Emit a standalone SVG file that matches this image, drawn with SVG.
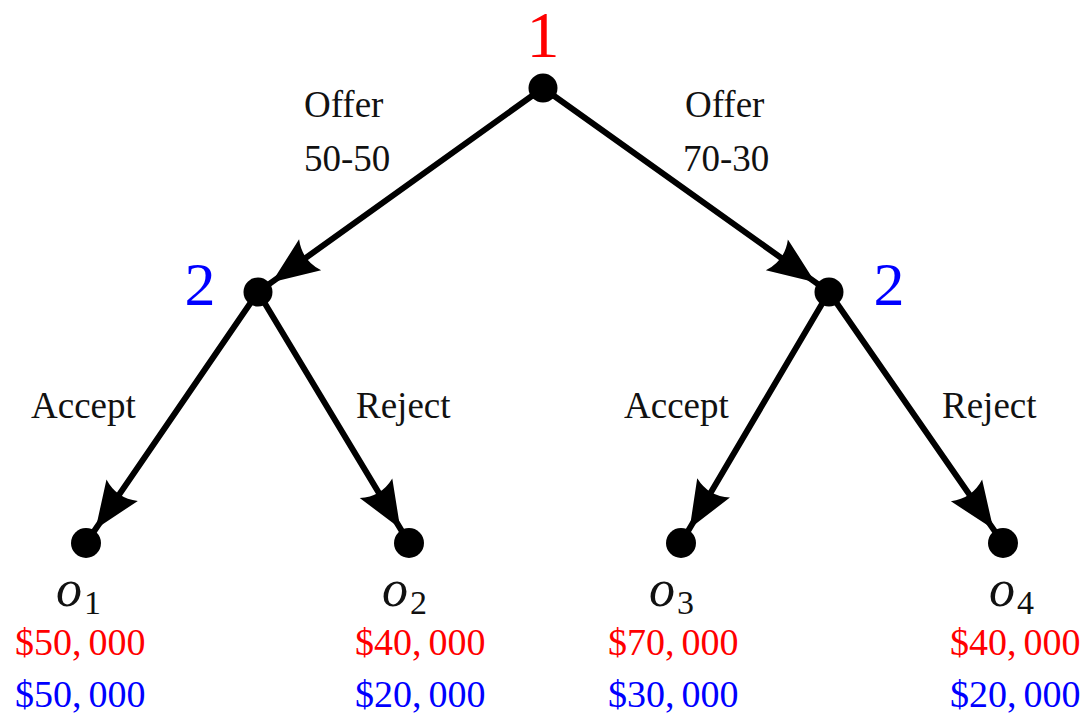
<svg xmlns="http://www.w3.org/2000/svg" width="1086" height="718" viewBox="0 0 1086 718">
<style>
.lbl{font-family:"Liberation Serif","Times New Roman",serif;font-size:37px;fill:#111}
.pl{font-family:"Liberation Serif","Times New Roman",serif}
.o{font-family:"Liberation Serif","Times New Roman",serif;font-style:italic;font-size:52px;fill:#111}
.sub{font-family:"Liberation Serif","Times New Roman",serif;font-size:34px;fill:#111;font-style:normal}
.m{font-family:"Liberation Serif","Times New Roman",serif;font-size:38px}
.red{fill:#ff0000}
.blue{fill:#0000ff}
.edge{fill:none;stroke:#000;stroke-width:6;marker-mid:url(#ah)}
.dot{fill:#000}
</style>
<defs>
<marker id="ah" markerUnits="userSpaceOnUse" markerWidth="60" markerHeight="48" viewBox="-50 -24 60 48" refX="0" refY="0" orient="auto">
<path d="M3,0 L-44,-19 Q-34,0 -44,19 Z" fill="#000"/>
</marker>
</defs>
<rect width="1086" height="718" fill="#fff"/>
<g id="connectors">
<path class="edge" d="M543,88 L274.3,280.4 L258,292"/>
<path class="edge" d="M543,88 L812.7,280.4 L829,292"/>
<path class="edge" d="M258,292 L97.3,526.5 L86,543"/>
<path class="edge" d="M258,292 L398.7,525.9 L409,543"/>
<path class="edge" d="M829,292 L691.2,525.8 L681,543"/>
<path class="edge" d="M829,292 L991.6,526.6 L1003,543"/>
</g>
<g id="edge-labels">
<text class="lbl" x="304" y="117">Offer</text>
<text class="lbl" x="304" y="171">50-50</text>
<text class="lbl" x="685" y="117">Offer</text>
<text class="lbl" x="683" y="171">70-30</text>
<text class="lbl" x="31" y="418">Accept</text>
<text class="lbl" x="356" y="418">Reject</text>
<text class="lbl" x="624" y="418">Accept</text>
<text class="lbl" x="942" y="418">Reject</text>
</g>
<g id="n-root">
<circle class="dot" cx="543" cy="88" r="14.5"/>
<text class="pl red" x="543" y="57" font-size="66" text-anchor="middle">1</text>
</g>
<g id="n-left">
<circle class="dot" cx="258" cy="292" r="14.5"/>
<text class="pl blue" x="200" y="305" font-size="62" text-anchor="middle">2</text>
</g>
<g id="n-right">
<circle class="dot" cx="829" cy="292" r="14.5"/>
<text class="pl blue" x="889" y="305" font-size="62" text-anchor="middle">2</text>
</g>
<g id="o1">
<circle class="dot" cx="86" cy="543" r="15"/>
<text class="o" x="56" y="606">o<tspan class="sub" dx="2" dy="8">1</tspan></text>
<text class="m red" x="15" y="655">$50,<tspan dx="7">000</tspan></text>
<text class="m blue" x="15" y="707">$50,<tspan dx="7">000</tspan></text>
</g>
<g id="o2">
<circle class="dot" cx="409" cy="543" r="15"/>
<text class="o" x="382" y="606">o<tspan class="sub" dx="2" dy="8">2</tspan></text>
<text class="m red" x="355" y="655">$40,<tspan dx="7">000</tspan></text>
<text class="m blue" x="355" y="707">$20,<tspan dx="7">000</tspan></text>
</g>
<g id="o3">
<circle class="dot" cx="681" cy="543" r="15"/>
<text class="o" x="649" y="606">o<tspan class="sub" dx="2" dy="8">3</tspan></text>
<text class="m red" x="608" y="655">$70,<tspan dx="7">000</tspan></text>
<text class="m blue" x="608" y="707">$30,<tspan dx="7">000</tspan></text>
</g>
<g id="o4">
<circle class="dot" cx="1003" cy="543" r="15"/>
<text class="o" x="989" y="606">o<tspan class="sub" dx="2" dy="8">4</tspan></text>
<text class="m red" x="950" y="655">$40,<tspan dx="7">000</tspan></text>
<text class="m blue" x="950" y="707">$20,<tspan dx="7">000</tspan></text>
</g>
</svg>
